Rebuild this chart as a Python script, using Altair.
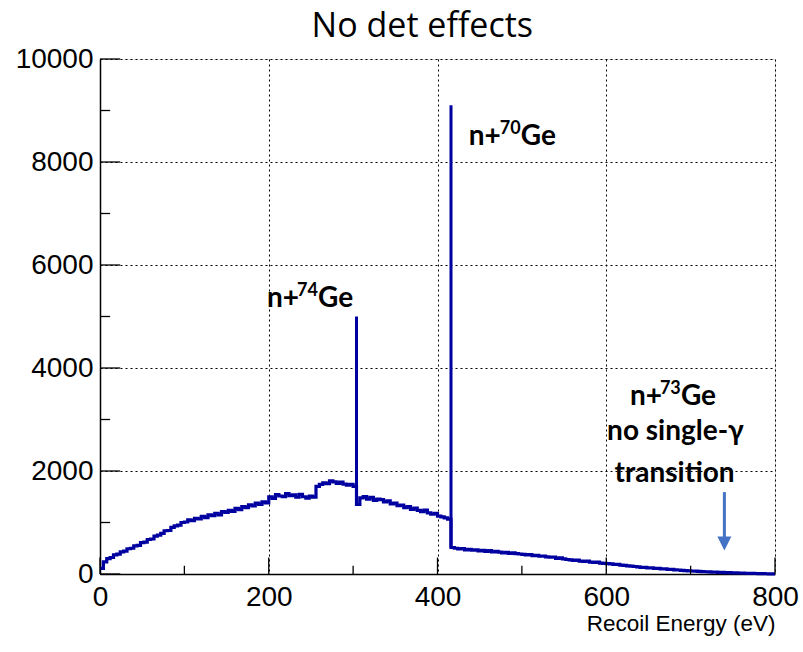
import altair as alt
import pandas as pd

# ---------------- data ----------------
title_text = ["No det effects"]
bin_width = 4
counts = [
    # 0-100
    110, 235, 300, 320, 370, 385, 430, 445, 490, 500, 545, 555, 610, 620, 670, 680, 735, 755, 790, 840, 845, 905, 935, 950, 1000,
    # 100-200
    1010, 1050, 1035, 1080, 1070,
    1120, 1095, 1150, 1135, 1180, 1150, 1210, 1195,
    1235, 1215, 1275, 1250, 1310, 1290,
    1345, 1320, 1375, 1350, 1400, 1380,
    # 200-304
    1500, 1470, 1540, 1515, 1500, 1560, 1520, 1535, 1490, 1545, 1500, 1475, 1515, 1490,
    1700, 1740, 1770, 1755, 1810, 1790, 1760, 1785, 1745, 1725, 1740, 1700,
    # 304-416
    1350, 1480, 1505, 1455, 1490, 1430, 1455, 1445, 1400, 1420, 1360, 1375, 1325, 1340,
    1290, 1310, 1255, 1280, 1235, 1210, 1240, 1185, 1160, 1180, 1125, 1110, 1090, 1065,
    # 416-800
    515, 500, 485, 495, 470, 480,
    462, 470, 450, 458, 440, 452, 430, 438, 425, 412, 420, 402, 410, 395, 388,
    382, 370, 378, 355, 362, 345, 350, 332, 325, 330, 305, 312, 292, 282, 275,
    262, 268, 250, 245, 252, 232, 225, 230, 212, 208,
    200, 196, 185, 188, 172, 168, 158, 152, 146, 138,
    130, 128, 118, 120, 108, 112, 98, 102, 90, 88, 80, 78, 70, 66, 62,
    58, 54, 52, 46, 44, 42, 37, 36, 31, 30,
    27, 26, 23, 21, 19, 18, 15, 13, 11, 10,
    8, 6, 5, 3, 2,
]
energies = [i * bin_width for i in range(len(counts))] + [800]
counts_closed = counts + [counts[-1]]

peak_energy = [304, 416]
peak_top = [5000, 9100]
peak_base = [1350, 515]

x_major = [0, 200, 400, 600, 800]
x_minor = [100, 300, 500, 700]
y_major = [0, 2000, 4000, 6000, 8000, 10000]
y_minor = [1000, 3000, 5000, 7000, 9000]

# annotation pieces
lab_x = [198, 198, 198, 437, 437, 437, 628, 628, 628]
lab_y = [5185, 5185, 5185, 8330, 8330, 8330, 3280, 3280, 3280]
lab_text = ["n+", "74", "Ge", "n+", "70", "Ge", "n+", "73", "Ge"]
lab_dx = [0, 30, 51, 0, 31, 52, 0, 30, 51]
lab_dy = [0, -11, 0, 0, -11, 0, 0, -11, 0]

line_x = [682, 681]
line_y = [2600, 1790]
line_text = ["no single-γ", "transition"]

arrow_x = [740]
arrow_top = [1590]
arrow_bottom = [718]
arrow_head = [592]

# ---------------- chart ----------------
hist = pd.DataFrame({"E": energies, "N": counts_closed})
peaks = pd.DataFrame({"E": peak_energy, "top": peak_top, "base": peak_base})
xmaj = pd.DataFrame({"p": x_major})
xmin = pd.DataFrame({"p": x_minor})
ymaj = pd.DataFrame({"p": y_major})
ymin = pd.DataFrame({"p": y_minor})
labs = pd.DataFrame({"x": lab_x, "y": lab_y, "t": lab_text})
lines = pd.DataFrame({"x": line_x, "y": line_y, "t": line_text})
arrow = pd.DataFrame({"x": arrow_x, "top": arrow_top, "bottom": arrow_bottom, "head": arrow_head})
titles = pd.DataFrame({"t": title_text})

xscale = alt.Scale(domain=[0, 800], nice=False, zero=False)
yscale = alt.Scale(domain=[0, 10000], nice=False)

BLUE = "#0000a0"

xaxis = alt.Axis(
    values=x_major, ticks=False, grid=True, gridDash=[2, 3], gridColor="black",
    gridWidth=1, gridOpacity=1, labelFont="Liberation Sans", labelFontSize=28,
    labelColor="black", labelPadding=9, labelFlush=False, domain=True,
    domainColor="black", domainWidth=1.5, title="Recoil Energy (eV)",
    titleFont="Liberation Sans", titleFontSize=22.5, titleFontWeight="normal",
    titleColor="black", titleAnchor="end", titleAlign="right", titleX=675,
    titleY=56, titleBaseline="alphabetic", format="d",
)
yaxis = alt.Axis(
    values=y_major, ticks=False, grid=True, gridDash=[2, 3], gridColor="black",
    gridWidth=1, gridOpacity=1, labelFont="Liberation Sans", labelFontSize=28,
    labelColor="black", labelPadding=7, labelFlush=False, domain=True,
    domainColor="black", domainWidth=1.5, title=None, format="d",
)

base_line = alt.Chart(hist).mark_line(
    interpolate="step-after", color=BLUE, strokeWidth=3.2
).encode(
    x=alt.X("E:Q", scale=xscale, axis=xaxis),
    y=alt.Y("N:Q", scale=yscale, axis=yaxis),
)

peak_rules = alt.Chart(peaks).mark_rule(color=BLUE, strokeWidth=3).encode(
    x="E:Q", y="base:Q", y2="top:Q"
)

tick_xmaj = alt.Chart(xmaj).mark_rule(color="black", strokeWidth=1.3).encode(
    x="p:Q", y=alt.datum(0), y2=alt.datum(320)
)
tick_xmin = alt.Chart(xmin).mark_rule(color="black", strokeWidth=1.3).encode(
    x="p:Q", y=alt.datum(0), y2=alt.datum(160)
)
tick_ymaj = alt.Chart(ymaj).mark_rule(color="black", strokeWidth=1.3).encode(
    y="p:Q", x=alt.datum(0), x2=alt.datum(24)
)
tick_ymin = alt.Chart(ymin).mark_rule(color="black", strokeWidth=1.3).encode(
    y="p:Q", x=alt.datum(0), x2=alt.datum(12)
)

label_layers = []
for i in range(len(lab_text)):
    sup = lab_dy[i] != 0
    label_layers.append(
        alt.Chart(labs.iloc[[i]]).mark_text(
            font="Lato", fontWeight="bold", fontSize=18 if sup else 28,
            align="left", baseline="alphabetic", dx=lab_dx[i], dy=lab_dy[i],
            color="black",
        ).encode(x="x:Q", y="y:Q", text="t:N")
    )

line_texts = alt.Chart(lines).mark_text(
    font="Lato", fontWeight="bold", fontSize=28, align="center",
    baseline="alphabetic", color="black",
).encode(x="x:Q", y="y:Q", text="t:N")

title_mark = alt.Chart(titles).mark_text(
    font="Open Sans", fontSize=34, align="center", baseline="alphabetic",
    color="black", dy=-22,
).encode(x=alt.datum(382), y=alt.datum(10000), text="t:N")

arrow_shaft = alt.Chart(arrow).mark_rule(color="#4472c4", strokeWidth=3).encode(
    x="x:Q", y="bottom:Q", y2="top:Q"
)
arrow_tip = alt.Chart(arrow).mark_point(
    shape="M-1,-1L1,-1L0,1Z", size=196, filled=True, color="#4472c4", opacity=1
).encode(x="x:Q", y="head:Q")

chart = alt.layer(
    base_line, peak_rules, tick_xmaj, tick_xmin, tick_ymaj, tick_ymin,
    *label_layers, line_texts, title_mark, arrow_shaft, arrow_tip,
).properties(
    width=675, height=515,
    autosize=alt.AutoSizeParams(type="none"),
    padding={"left": 100, "top": 59, "right": 28, "bottom": 78},
).configure_view(stroke="black", strokeWidth=1.5).configure(background="white")

chart.save("out.html", embed_options={"renderer": "svg", "actions": False})
